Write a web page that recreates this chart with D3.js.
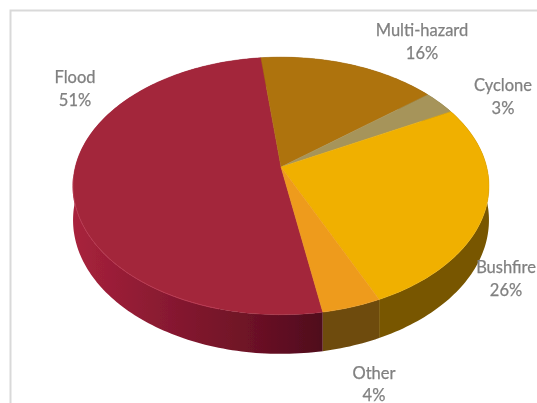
<!DOCTYPE html>
<html>
<head>
<meta charset="utf-8">
<script src="https://cdn.jsdelivr.net/npm/d3@7"></script>
<style>
    html, body { margin: 0; padding: 0; background: #fff; overflow: hidden; }
    svg { display: block; }
    text { font-family: Lato, "Open Sans", sans-serif; font-size: 16.5px; fill: #808080; stroke: #808080; stroke-width: 0.25px; text-anchor: middle; }
</style>
</head>
<body>
<div id="chart"></div>
<script>
// Chart values
const categories = ["Flood", "Multi-hazard", "Cyclone", "Bushfire", "Other"];
const shares = [51, 16, 3, 26, 4];

const width = 537;
const height = 403;

// Face and wall colours, by category
const topColors = d3.scaleOrdinal(categories, ["#a3263b", "#ae730f", "#a6945a", "#f0b000", "#ee9b1b"]);
const wallColors = d3.scaleOrdinal(categories, ["url(#floodWall)", "#6b4a08", "#6b5a20", "#785600", "#6e4b0e"]);

// Hand placed labels, [x, y of the name line]
const labelPlaces = new Map([
    ["Flood", [75, 83]],
    ["Multi-hazard", [422, 36]],
    ["Cyclone", [503, 91]],
    ["Bushfire", [506, 273]],
    ["Other", [374, 378.5]]
]);

// Tilted disc: perspective makes the near half larger than the far half
const apex = {x: 281, y: 167};
const discX = 205.7;
const discY = 126;
const perspective = 0.147;
const depth = 33.4;

function project(angle, radius, drop) {
    const u = Math.sin(angle) * radius;
    const v = -Math.cos(angle) * radius;
    const w = 1 - perspective * v;
    return [apex.x + discX * u / w, apex.y + (discY * v + drop) / w];
}

function rimAngles(a0, a1) {
    const steps = Math.ceil((a1 - a0) / 0.02);
    return d3.range(steps + 1).map(i => a0 + (a1 - a0) * i / steps);
}

const pie = d3.pie()
    .value(d => d.share)
    .sort(null)
    .startAngle(170 * Math.PI / 180)
    .endAngle((170 + 360) * Math.PI / 180);

const slices = pie(categories.map((name, i) => ({name: name, share: shares[i]})));
const line = d3.line();

const svg = d3.select("#chart")
    .append("svg")
    .attr("width", width)
    .attr("height", height);

const defs = svg.append("defs");

const floodWall = defs.append("linearGradient").attr("id", "floodWall");
floodWall.append("stop").attr("offset", "0%").attr("stop-color", "#a8223c");
floodWall.append("stop").attr("offset", "30%").attr("stop-color", "#8e1b33");
floodWall.append("stop").attr("offset", "70%").attr("stop-color", "#6e1226");
floodWall.append("stop").attr("offset", "100%").attr("stop-color", "#4f0b1d");

// The source is a soft, low resolution scan
defs.append("filter").attr("id", "soft")
    .append("feGaussianBlur").attr("stdDeviation", 0.6);
defs.append("filter").attr("id", "softer")
    .append("feGaussianBlur").attr("stdDeviation", 0.5);

// Chart frame, open on the right and at the bottom
svg.append("path")
    .attr("d", line([[10.5, height], [10.5, 10.5], [width, 10.5]]))
    .attr("fill", "none")
    .attr("stroke", "#d9d9d9")
    .attr("stroke-width", 2);

const pieGroup = svg.append("g").attr("filter", "url(#softer)");

// Walls first, the top faces then hide the far part of them
pieGroup.selectAll("path.wall")
    .data(slices)
    .enter()
    .append("path")
    .attr("class", "wall")
    .attr("d", d => {
        const angles = rimAngles(d.startAngle, d.endAngle);
        const upper = angles.map(a => project(a, 1, 0));
        const lower = angles.slice().reverse().map(a => project(a, 1, depth));
        return line(upper.concat(lower)) + "Z";
    })
    .attr("fill", d => wallColors(d.data.name));

pieGroup.selectAll("path.top")
    .data(slices)
    .enter()
    .append("path")
    .attr("class", "top")
    .attr("d", d => {
        const rim = rimAngles(d.startAngle, d.endAngle).map(a => project(a, 1, 0));
        return line([project(0, 0, 0)].concat(rim)) + "Z";
    })
    .attr("fill", d => topColors(d.data.name))
    .attr("stroke", d => topColors(d.data.name))
    .attr("stroke-width", 0.5);

// Faint highlight along the near edge of the largest slice
pieGroup.append("path")
    .attr("d", line(rimAngles(195 * Math.PI / 180, 265 * Math.PI / 180).map(a => project(a, 1, 0))))
    .attr("fill", "none")
    .attr("stroke", "#b83a52")
    .attr("stroke-width", 1);

// Labels
const labels = svg.append("g")
    .attr("filter", "url(#soft)")
    .selectAll("text")
    .data(slices)
    .enter()
    .append("text")
    .attr("transform", d => `translate(${labelPlaces.get(d.data.name)})`);

labels.append("tspan")
    .attr("x", 0)
    .text(d => d.data.name);

labels.append("tspan")
    .attr("x", 0)
    .attr("dy", 22.5)
    .text(d => d.data.share + "%");
</script>
</body>
</html>
